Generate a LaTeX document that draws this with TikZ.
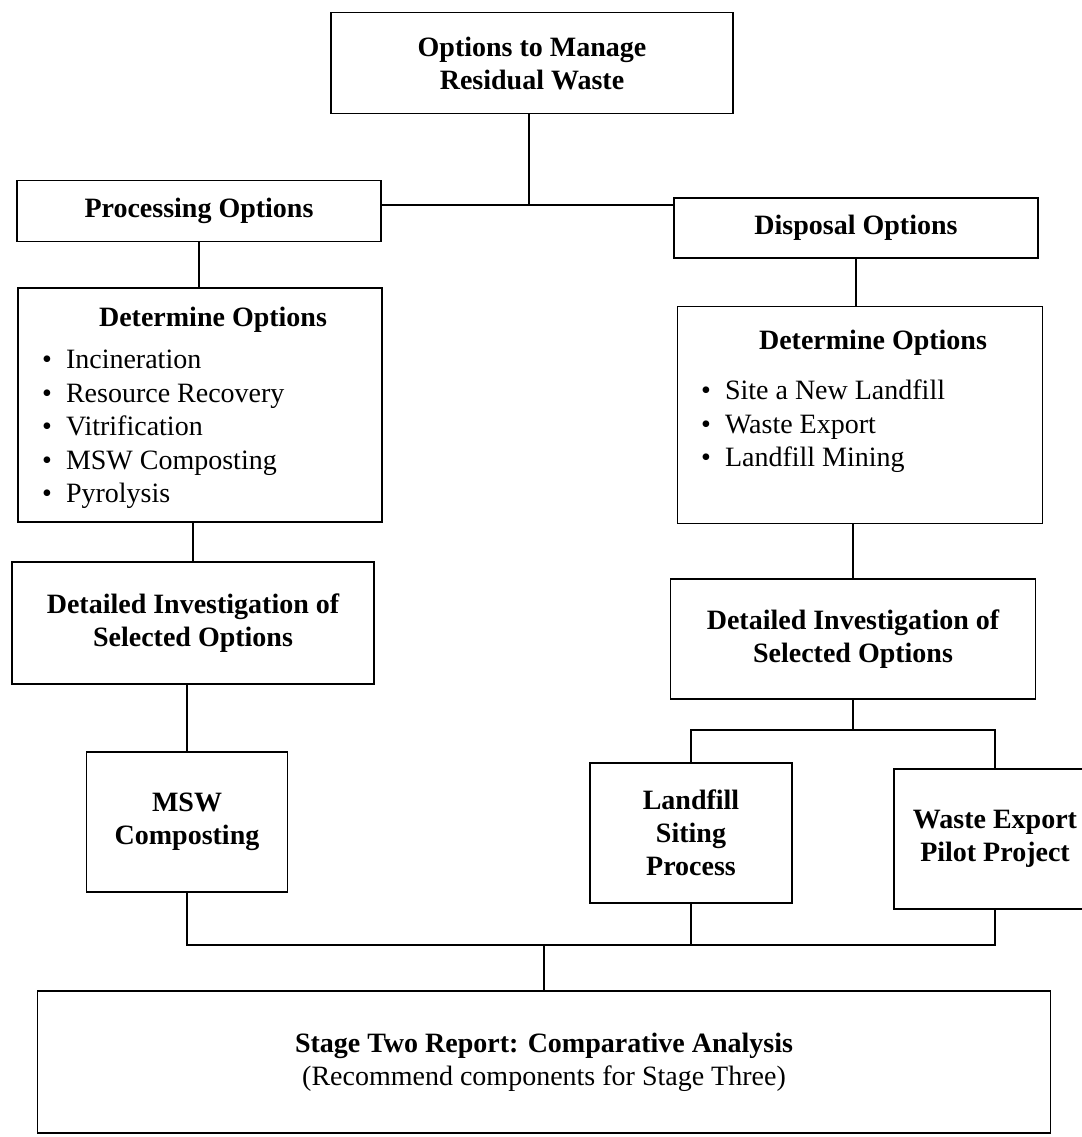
\documentclass[tikz,border=0pt]{standalone}
\usepackage{fontspec}
\setmainfont{Liberation Serif}
\usetikzlibrary{positioning}

\tikzset{
	box/.style={draw, line width=1.5pt, align=center, inner sep=0pt, font=\fontsize{28}{33}\selectfont\bfseries},
	heading/.style={inner sep=0pt, font=\fontsize{28}{33}\selectfont\bfseries},
	bullets/.style={align=left, inner sep=0pt, font=\fontsize{28}{33.5}\selectfont},
	wire/.style={line width=1.5pt},
}

\begin{document}
\begin{tikzpicture}[x=1pt, y=-1pt]
	\useasboundingbox (0,0) rectangle (1081,1137);
	
	% top of the tree
	\node[box, minimum width=402pt, minimum height=101pt] (goal) at (532,63) {Options to Manage\\Residual Waste};
	\node[box, minimum width=364pt, minimum height=61pt] (proc) at (199,211) {Processing Options};
	\node[box, minimum width=364pt, minimum height=60pt] (disp) at (856,228) {Disposal Options};
	
	% option lists
	\node[box, minimum width=364pt, minimum height=234pt] (detL) at (200,405) {};
	\node[heading] (detLtitle) at (213,320) {Determine Options};
	\node[bullets, anchor=north west] (procList) at (42,350) {\textbullet\enskip Incineration\\ \textbullet\enskip Resource Recovery\\ \textbullet\enskip Vitrification\\ \textbullet\enskip MSW Composting\\ \textbullet\enskip Pyrolysis};
	
	\node[box, minimum width=365pt, minimum height=217pt] (detR) at (860,415) {};
	\node[heading] (detRtitle) at (873,343) {Determine Options};
	\node[bullets, anchor=north west] (dispList) at (701,380) {\textbullet\enskip Site a New Landfill\\ \textbullet\enskip Waste Export\\ \textbullet\enskip Landfill Mining};
	
	% investigations
	\node[box, minimum width=362pt, minimum height=122pt] (invL) at (193,623) {Detailed Investigation of\\Selected Options};
	\node[box, minimum width=365pt, minimum height=120pt] (invR) at (853,639) {Detailed Investigation of\\Selected Options};
	
	% chosen components
	\node[box, minimum width=201pt, minimum height=140pt] (msw) at (187,822) {MSW\\Composting};
	\node[box, minimum width=202pt, minimum height=140pt] (landfill) at (691,833) {Landfill\\Siting\\Process};
	\node[box, minimum width=202pt, minimum height=140pt] (export) at (995,839) {Waste Export\\Pilot Project};
	
	\node[box, minimum width=1013pt, minimum height=142pt] (report) at (544,1062) {Stage Two Report: Comparative Analysis\\\mdseries (Recommend components for Stage Three)};
	
	% connectors
	\coordinate (fork) at (529,205);
	\draw[wire] (goal.south -| fork) -- (fork);
	\draw[wire] (proc.east |- fork) -- (disp.west |- fork);
	\draw[wire] (proc.south) -- (proc.south |- detL.north);
	\draw[wire] (disp.south) -- (disp.south |- detR.north);
	\draw[wire] (invL.north |- detL.south) -- (invL.north);
	\draw[wire] (invR.north |- detR.south) -- (invR.north);
	\draw[wire] (msw.north |- invL.south) -- (msw.north);
	
	\coordinate (split) at (853,730);
	\draw[wire] (invR.south) -- (split);
	\draw[wire] (landfill.north) |- (split) -| (export.north);
	
	\coordinate (join) at (544,945);
	\draw[wire] (msw.south) |- (join) -| (export.south);
	\draw[wire] (landfill.south) -- (landfill.south |- join);
	\draw[wire] (join) -- (report.north);
\end{tikzpicture}
\end{document}
